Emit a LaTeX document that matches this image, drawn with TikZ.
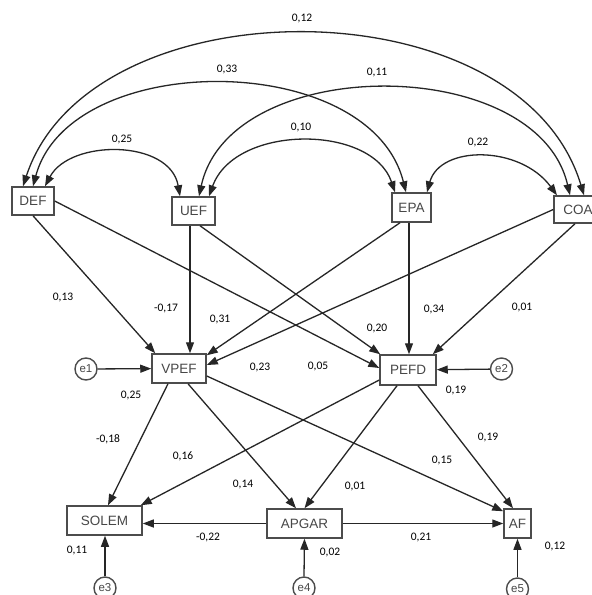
\documentclass[tikz,border=0pt]{standalone}
\usepackage{fontspec}
\setmainfont{Liberation Sans}
\newfontfamily\labfont{Carlito}
\usetikzlibrary{arrows.meta}
\begin{document}
\begin{tikzpicture}[x=1pt,y=-1pt,
  var/.style={draw=black!70,line width=1.5pt,minimum height=29pt,inner sep=0pt,
    font=\fontsize{13.5}{14}\selectfont,text=black!72},
  err/.style={circle,draw=black!70,line width=1.4pt,minimum size=22pt,inner sep=0pt,
    font=\fontsize{11.5}{12}\selectfont,text=black!72},
  reg/.style={draw=black!85,line width=1.3pt,-{Triangle[length=11pt,width=8pt]}},
  cov/.style={draw=black!85,line width=1.3pt,{Triangle[length=11pt,width=8pt]}-{Triangle[length=11pt,width=8pt]}},
  lab/.style={font=\labfont\fontsize{11.5}{12}\selectfont,text=black,inner sep=0pt}]
\useasboundingbox[fill=white] (0,0) rectangle (592,595);

% exogenous variables
\node[var,minimum width=42pt,minimum height=28pt] (DEF) at (33,201) {DEF};
\node[var,minimum width=43pt,minimum height=28pt] (UEF) at (193.5,211) {UEF};
\node[var,minimum width=39pt] (EPA) at (411.5,207.5) {EPA};
\node[var,minimum width=48pt,minimum height=27pt] (COA) at (578,209.5) {COA};
% mediators
\node[var,minimum width=54pt] (VPEF) at (179,368.5) {VPEF};
\node[var,minimum width=56pt,minimum height=30pt] (PEFD) at (408,370) {PEFD};
% outcomes
\node[var,minimum width=75pt] (SOLEM) at (104.5,520.5) {SOLEM};
\node[var,minimum width=75pt] (APGAR) at (304.5,523.5) {APGAR};
\node[var,minimum width=27pt] (AF) at (517.5,523.5) {AF};
% errors
\node[err] (e1) at (86,369) {e1};
\node[err] (e2) at (501.5,369) {e2};
\node[err] (e3) at (105,588) {e3};
\node[err] (e4) at (304,588) {e4};
\node[err] (e5) at (517.5,589) {e5};

% covariances
\draw[cov] ([xshift=-10pt]DEF.north) .. controls (90,-18) and (520,-18) .. ([xshift=6pt]COA.north);
\draw[cov] (DEF.north) .. controls (70,49) and (370,49) .. ([xshift=-5.5pt]EPA.north);
\draw[cov] ([xshift=5.5pt]UEF.north) .. controls (230,53) and (537,53) .. ([xshift=-8pt]COA.north);
\draw[cov] ([xshift=12pt]DEF.north) .. controls (70,139) and (170,139) .. ([xshift=-13.5pt]UEF.north);
\draw[cov] ([xshift=15.5pt]UEF.north) .. controls (235,124) and (372,124) .. ([xshift=-16.5pt]EPA.north);
\draw[cov] ([xshift=15.5pt]EPA.north) .. controls (440,145) and (520,145) .. ([xshift=-21pt]COA.north);

% regressions
\draw[reg] (DEF.south) -- ([xshift=4pt]VPEF.north west);
\draw[reg] (DEF.east) -- ([yshift=2pt]PEFD.west);
\draw[reg] ([xshift=-3.5pt]UEF.south) -- ([xshift=11pt]VPEF.north);
\draw[reg] ([xshift=6.5pt]UEF.south) -- ([xshift=1pt]PEFD.north west);
\draw[reg] ([xshift=-11.5pt]EPA.south) -- ([yshift=-2pt]VPEF.north east);
\draw[reg] (COA.west) -- ([yshift=3.5pt]VPEF.east);
\draw[reg] ([xshift=-2.5pt]EPA.south) -- ([xshift=1pt]PEFD.north);
\draw[reg] ([xshift=-3pt]COA.south) -- ([xshift=-4pt]PEFD.north east);
\draw[reg] (e1) -- (VPEF);
\draw[reg] (e2) -- (PEFD);
\draw[reg] ([xshift=-11pt]VPEF.south) -- ([xshift=3.5pt]SOLEM.north);
\draw[reg] ([xshift=9pt]VPEF.south) -- ([xshift=-8.5pt]APGAR.north);
\draw[reg] ([yshift=-7.5pt]VPEF.east) -- ([yshift=-3pt]AF.north west);
\draw[reg] ([yshift=-10pt]PEFD.west) -- ([xshift=-2pt]SOLEM.north east);
\draw[reg] ([xshift=-11pt]PEFD.south) -- (APGAR.north);
\draw[reg] ([xshift=10pt]PEFD.south) -- ([xshift=-4.5pt]AF.north);
\draw[reg] (APGAR.west) -- (APGAR.west -| SOLEM.east);
\draw[reg] (APGAR.east) -- (AF.west);
\draw[reg] (e3.north) -- (e3.north |- SOLEM.south);
\draw[reg] (e4.north) -- (APGAR.south);
\draw[reg] (e5.north) -- (AF.south);

% labels
\node[lab] (l012) at (302,19) {0,12};
\node[lab] (l033) at (227,70) {0,33};
\node[lab] (l011) at (377,73) {0,11};
\node[lab] (l025) at (122,140) {0,25};
\node[lab] (l010) at (301,128) {0,10};
\node[lab] (l022) at (478,143) {0,22};
\node[lab] (l013) at (63,297) {0,13};
\node[lab] (l017) at (166,308) {-0,17};
\node[lab] (l031) at (220,319) {0,31};
\node[lab] (l023) at (260,367) {0,23};
\node[lab] (l005) at (318,366) {0,05};
\node[lab] (l020) at (377,328) {0,20};
\node[lab] (l034) at (434,309) {0,34};
\node[lab] (l001a) at (522,307) {0,01};
\node[lab] (r025) at (131,395) {0,25};
\node[lab] (l018) at (108,439) {-0,18};
\node[lab] (l016) at (183,456) {0,16};
\node[lab] (l014) at (243,484) {0,14};
\node[lab] (l022b) at (208,537) {-0,22};
\node[lab] (r011) at (77,550) {0,11};
\node[lab] (r019) at (456,390) {0,19};
\node[lab] (l019) at (488,437) {0,19};
\node[lab] (l015) at (442,460) {0,15};
\node[lab] (l001b) at (355,486) {0,01};
\node[lab] (l021) at (421,537) {0,21};
\node[lab] (r002) at (330,552) {0,02};
\node[lab] (r012) at (555,546) {0,12};
\end{tikzpicture}
\end{document}
